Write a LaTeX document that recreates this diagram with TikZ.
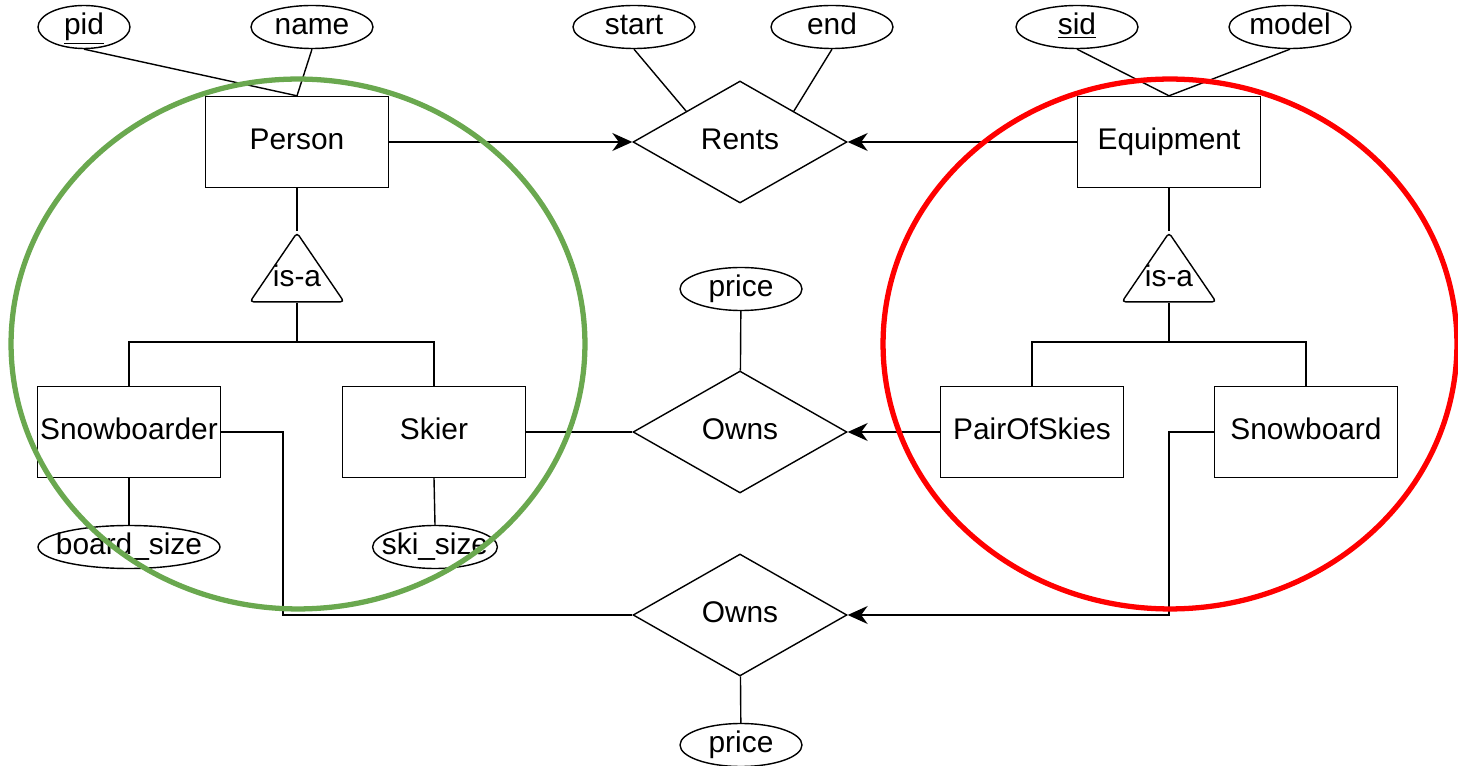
\documentclass[tikz,border=0pt]{standalone}
\usepackage{fontspec}
\setmainfont{Liberation Sans}
\usetikzlibrary{shapes, arrows.meta}
\definecolor{ringgreen}{RGB}{106,168,79}
\definecolor{ringred}{RGB}{255,0,0}

\begin{document}
\begin{tikzpicture}[x=0.02cm, y=-0.02cm, line width=0.8pt,
  every node/.style={font=\fontsize{17}{20}\selectfont, text height=12.5pt, text depth=3.6pt},
  entity/.style={draw, fill=white, rectangle, minimum width=3.66cm, minimum height=1.82cm, inner sep=0pt},
  relation/.style={draw, fill=white, diamond, minimum width=4.28cm, minimum height=2.44cm, inner sep=0pt},
  attrib/.style={draw, fill=white, ellipse, minimum width=2.44cm, minimum height=0.86cm,
    inner xsep=-0.18cm, inner ysep=0pt},
  isa/.style={draw, fill=white, isosceles triangle, isosceles triangle stretches, shape border rotate=90,
    minimum width=1.88cm, minimum height=1.38cm, inner sep=0pt, rounded corners=2pt},
  arr/.style={-{Stealth[length=4mm, width=3.6mm, inset=1.3mm]}},
  ring/.style={line width=3pt}]
	\useasboundingbox (0,0) rectangle (1458,766);

	%% Rents
	\node[entity] (person) at (297,142) {Person};
	\node[entity] (equipment) at (1169,142) {Equipment};
	\node[relation] (rents) at (740,142) {Rents};
	\node[attrib, minimum width=1.84cm] (pid) at (84,27) {\underline{pid}};
	\node[attrib] (name) at (312,27) {name};
	\node[attrib] (attStart) at (634,27) {start};
	\node[attrib] (attEnd) at (832,27) {end};
	\node[attrib] (sid) at (1077,27) {\underline{sid}};
	\node[attrib] (model) at (1290,27) {model};

	\draw (pid.south) -- (person.north);
	\draw (name.south) -- (person.north);
	\draw (sid.south) -- (equipment.north);
	\draw (model.south) -- (equipment.north);
	\draw (attStart.south) -- (rents.north west);
	\draw (attEnd.south) -- (rents.north east);
	\draw[arr] (person) -- (rents);
	\draw[arr] (equipment) -- (rents);

	%% is-a, left
	\node[isa, anchor=apex] (isaL) at (297,231) {};
	\node (isaLtext) at ([yshift=-0.95cm]isaL.apex) {is-a};
	\node[entity] (snowboarder) at (129,432) {Snowboarder};
	\node[entity] (skier) at (434,432) {Skier};
	\node[attrib, minimum width=3.64cm] (boardsize) at (129,547) {board\_size};
	\node[attrib] (skisize) at (435,547) {ski\_size};
	\coordinate (forkL) at (297,342);

	\draw (person.south) -- (isaL.apex);
	\draw (isaL.lower side) -- (forkL);
	\draw (snowboarder.north) |- (forkL) -| (skier.north);
	\draw (snowboarder.south) -- (boardsize.north);
	\draw (skier.south) -- (skisize.north);

	%% is-a, right
	\node[isa, anchor=apex] (isaR) at (1169,231) {};
	\node (isaRtext) at ([yshift=-0.95cm]isaR.apex) {is-a};
	\node[entity] (pairofskies) at (1032,432) {PairOfSkies};
	\node[entity] (snowboard) at (1306,432) {Snowboard};
	\coordinate (forkR) at (1169,342);

	\draw (equipment.south) -- (isaR.apex);
	\draw (isaR.lower side) -- (forkR);
	\draw (pairofskies.north) |- (forkR) -| (snowboard.north);

	%% Owns
	\node[relation] (ownsM) at (740,432) {Owns};
	\node[attrib] (priceM) at (741,289) {price};
	\node[relation] (ownsB) at (740,615) {Owns};
	\node[attrib] (priceB) at (741,745) {price};
	\coordinate (bendL) at (283,615);
	\coordinate (bendR) at (1169,615);

	\draw (priceM) -- (ownsM);
	\draw (skier) -- (ownsM);
	\draw[arr] (pairofskies) -- (ownsM);
	\draw (ownsB) -- (priceB);
	\draw (snowboarder.east) -| (bendL) -- (ownsB.west);
	\draw[arr] (snowboard.west) -| (bendR) -- (ownsB.east);

	%% Rings
	\draw[ring, ringgreen] (298,344) ellipse [x radius=5.74cm, y radius=5.3cm];
	\draw[ring, ringred] (1170,344) ellipse [x radius=5.74cm, y radius=5.3cm];
\end{tikzpicture}
\end{document}
